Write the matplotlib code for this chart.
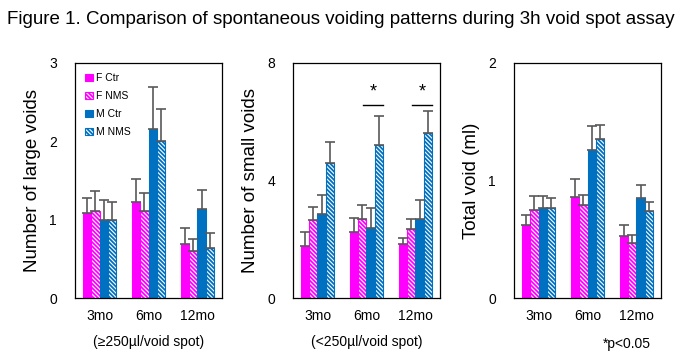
import matplotlib
matplotlib.use('Agg')
import matplotlib.pyplot as plt
import numpy as np

plt.rcParams['font.family'] = ['Liberation Sans', 'DejaVu Sans']
plt.rcParams['hatch.linewidth'] = 1.3

MAGENTA = '#FF00FF'
BLUE = '#0070C0'
ERR = '#595959'

groups = ['3mo', '6mo', '12mo']
series = ['F Ctr', 'F NMS', 'M Ctr', 'M NMS']

# large voids (>=250ul)
large_mean = {'F Ctr': [1.08, 1.23, 0.69], 'F NMS': [1.11, 1.11, 0.60],
              'M Ctr': [1.00, 2.16, 1.14], 'M NMS': [1.00, 2.01, 0.64]}
large_err = {'F Ctr': [0.20, 0.29, 0.20], 'F NMS': [0.26, 0.23, 0.15],
             'M Ctr': [0.25, 0.53, 0.24], 'M NMS': [0.23, 0.40, 0.19]}
# small voids (<250ul)
small_mean = {'F Ctr': [1.78, 2.26, 1.85], 'F NMS': [2.67, 2.69, 2.35],
              'M Ctr': [2.85, 2.39, 2.69], 'M NMS': [4.60, 5.21, 5.62]}
small_err = {'F Ctr': [0.47, 0.46, 0.18], 'F NMS': [0.43, 0.48, 0.34],
             'M Ctr': [0.66, 0.67, 0.64], 'M NMS': [0.71, 0.98, 0.75]}
# total void volume (ml)
total_mean = {'F Ctr': [0.62, 0.86, 0.53], 'F NMS': [0.75, 0.79, 0.47],
              'M Ctr': [0.77, 1.26, 0.85], 'M NMS': [0.77, 1.35, 0.74]}
total_err = {'F Ctr': [0.09, 0.15, 0.09], 'F NMS': [0.12, 0.09, 0.07],
             'M Ctr': [0.10, 0.20, 0.11], 'M NMS': [0.08, 0.12, 0.08]}

HATCH = '\\' * 8
STYLE = {'F Ctr': (MAGENTA, MAGENTA, None),
         'F NMS': ('white', MAGENTA, HATCH),
         'M Ctr': (BLUE, BLUE, None),
         'M NMS': ('white', BLUE, HATCH)}

fig = plt.figure(figsize=(6.82, 3.6), dpi=100)
fig.text(0.5, 0.945, 'Figure 1. Comparison of spontaneous voiding patterns during 3h void spot assay',
         ha='center', va='center', fontsize=13.5)

panels = [
    (0.110, large_mean, large_err, 3, [0, 1, 2, 3], 'Number of large voids', '(\u2265250\u00b5l/void spot)'),
    (0.4296, small_mean, small_err, 8, [0, 4, 8], 'Number of small voids', '(<250\u00b5l/void spot)'),
    (0.7537, total_mean, total_err, 2, [0, 1, 2], 'Total void (ml)', None),
]

W = 0.17
x = np.arange(len(groups))
axes = []
for left, means, errs, ymax, ticks, ylab, sub in panels:
    ax = fig.add_axes([left, 0.172, 0.2155, 0.653])
    axes.append(ax)
    for i, s in enumerate(series):
        fc, ec, hatch = STYLE[s]
        pos = x + (i - 1.5) * W
        ax.bar(pos, means[s], W, color=fc, edgecolor=ec, hatch=hatch, lw=0.8,
               label=s, zorder=2)
        ax.errorbar(pos, means[s], yerr=[np.zeros(3), errs[s]], fmt='none',
                    ecolor=ERR, elinewidth=1.2, capsize=3.5, capthick=1.2, zorder=3)
    ax.set_xlim(-0.5, 2.5)
    ax.set_ylim(0, ymax)
    ax.set_yticks(ticks)
    ax.set_xticks(x)
    ax.set_xticklabels(groups, fontsize=10)
    ax.tick_params(length=0, labelsize=10, pad=8)
    ax.tick_params(axis='y', pad=13)
    ax.set_ylabel(ylab, fontsize=13.5, labelpad=6)
    for sp in ax.spines.values():
        sp.set_linewidth(0.9)
    if sub:
        ax.text(0.5, -0.185, sub, transform=ax.transAxes, ha='center', va='center', fontsize=10)

leg = axes[0].legend(loc='upper left', frameon=False, fontsize=7.5, handlelength=0.7,
                     handleheight=0.7, handletextpad=0.3, labelspacing=0.75,
                     borderaxespad=0.6)

# significance marks on small voids
ax2 = axes[1]
for g in [1, 2]:
    ax2.plot([g - 0.07, g + 0.33], [6.58, 6.58], color='black', lw=1)
    ax2.text(g + 0.13, 7.0, '*', ha='center', va='center', fontsize=13)

fig.text(0.955, 0.045, '*p<0.05', ha='right', va='center', fontsize=10)

fig.savefig('out.png', dpi=100)
